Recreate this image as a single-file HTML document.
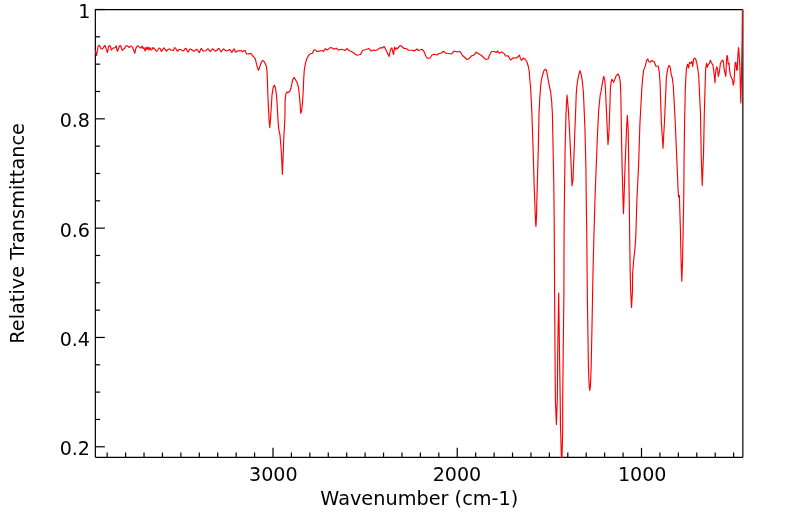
<!DOCTYPE html>
<html><head><meta charset="utf-8"><title>IR Spectrum</title>
<style>
html,body{margin:0;padding:0;background:#fff;}
body{width:799px;height:516px;overflow:hidden;}
svg{display:block;}
text{font-family:"DejaVu Sans","Liberation Sans",sans-serif;font-size:19.1px;fill:#000;}
</style></head><body>
<svg width="799" height="516" viewBox="0 0 799 516">
<rect width="799" height="516" fill="#fff"/>
<g stroke="#000" stroke-width="1.2" fill="none" stroke-linecap="butt">
<path d="M95.35 457.35 L95.35 9.6 L742.85 9.6"/>
<path d="M95.35 457.35 L742.85 457.35"/>
<path d="M742.85 457.35 L742.85 9.6" />
<line x1="733.62" y1="457.35" x2="733.62" y2="452.55"/>
<line x1="715.20" y1="457.35" x2="715.20" y2="452.55"/>
<line x1="696.77" y1="457.35" x2="696.77" y2="452.55"/>
<line x1="678.35" y1="457.35" x2="678.35" y2="452.55"/>
<line x1="659.92" y1="457.35" x2="659.92" y2="452.55"/>
<line x1="641.50" y1="457.35" x2="641.50" y2="447.85"/>
<line x1="623.08" y1="457.35" x2="623.08" y2="452.55"/>
<line x1="604.65" y1="457.35" x2="604.65" y2="452.55"/>
<line x1="586.23" y1="457.35" x2="586.23" y2="452.55"/>
<line x1="567.80" y1="457.35" x2="567.80" y2="452.55"/>
<line x1="549.38" y1="457.35" x2="549.38" y2="452.55"/>
<line x1="530.95" y1="457.35" x2="530.95" y2="452.55"/>
<line x1="512.52" y1="457.35" x2="512.52" y2="452.55"/>
<line x1="494.10" y1="457.35" x2="494.10" y2="452.55"/>
<line x1="475.67" y1="457.35" x2="475.67" y2="452.55"/>
<line x1="457.25" y1="457.35" x2="457.25" y2="447.85"/>
<line x1="438.82" y1="457.35" x2="438.82" y2="452.55"/>
<line x1="420.40" y1="457.35" x2="420.40" y2="452.55"/>
<line x1="401.98" y1="457.35" x2="401.98" y2="452.55"/>
<line x1="383.55" y1="457.35" x2="383.55" y2="452.55"/>
<line x1="365.12" y1="457.35" x2="365.12" y2="452.55"/>
<line x1="346.70" y1="457.35" x2="346.70" y2="452.55"/>
<line x1="328.27" y1="457.35" x2="328.27" y2="452.55"/>
<line x1="309.85" y1="457.35" x2="309.85" y2="452.55"/>
<line x1="291.43" y1="457.35" x2="291.43" y2="452.55"/>
<line x1="273.00" y1="457.35" x2="273.00" y2="447.85"/>
<line x1="254.57" y1="457.35" x2="254.57" y2="452.55"/>
<line x1="236.15" y1="457.35" x2="236.15" y2="452.55"/>
<line x1="217.72" y1="457.35" x2="217.72" y2="452.55"/>
<line x1="199.30" y1="457.35" x2="199.30" y2="452.55"/>
<line x1="180.88" y1="457.35" x2="180.88" y2="452.55"/>
<line x1="162.45" y1="457.35" x2="162.45" y2="452.55"/>
<line x1="144.03" y1="457.35" x2="144.03" y2="452.55"/>
<line x1="125.60" y1="457.35" x2="125.60" y2="452.55"/>
<line x1="107.18" y1="457.35" x2="107.18" y2="452.55"/>
<line x1="95.35" y1="446.78" x2="104.85" y2="446.78"/>
<line x1="95.35" y1="419.45" x2="100.14999999999999" y2="419.45"/>
<line x1="95.35" y1="392.12" x2="100.14999999999999" y2="392.12"/>
<line x1="95.35" y1="364.79" x2="100.14999999999999" y2="364.79"/>
<line x1="95.35" y1="337.46" x2="104.85" y2="337.46"/>
<line x1="95.35" y1="310.13" x2="100.14999999999999" y2="310.13"/>
<line x1="95.35" y1="282.80" x2="100.14999999999999" y2="282.80"/>
<line x1="95.35" y1="255.47" x2="100.14999999999999" y2="255.47"/>
<line x1="95.35" y1="228.14" x2="104.85" y2="228.14"/>
<line x1="95.35" y1="200.81" x2="100.14999999999999" y2="200.81"/>
<line x1="95.35" y1="173.48" x2="100.14999999999999" y2="173.48"/>
<line x1="95.35" y1="146.15" x2="100.14999999999999" y2="146.15"/>
<line x1="95.35" y1="118.82" x2="104.85" y2="118.82"/>
<line x1="95.35" y1="91.49" x2="100.14999999999999" y2="91.49"/>
<line x1="95.35" y1="64.16" x2="100.14999999999999" y2="64.16"/>
<line x1="95.35" y1="36.83" x2="100.14999999999999" y2="36.83"/>
<line x1="95.35" y1="9.50" x2="104.85" y2="9.50"/>
</g>
<clipPath id="cp"><rect x="95" y="9" width="648" height="449"/></clipPath>
<path clip-path="url(#cp)" d="M95.51 51.02 L96.51 55.53 L98.21 45.52 L99.51 45.52 L100.81 48.52 L102.51 49.02 L104.01 46.52 L105.02 45.52 L106.02 48.52 L107.52 52.52 L108.52 47.02 L109.52 45.52 L110.52 46.52 L111.22 50.02 L112.52 48.52 L114.02 47.82 L115.53 47.52 L116.23 45.82 L117.03 50.52 L117.53 51.22 L118.53 48.52 L119.53 45.82 L120.53 45.52 L121.53 48.52 L122.53 50.52 L123.53 49.02 L124.53 48.52 L125.54 46.52 L126.54 45.82 L127.54 45.82 L128.54 47.02 L129.54 47.52 L130.54 46.02 L131.54 46.02 L132.54 47.52 L133.54 50.02 L134.84 53.22 L135.55 49.52 L136.55 47.02 L137.55 45.82 L138.55 46.02 L139.55 47.52 L141.05 48.02 L142.05 46.02 L143.05 48.52 L144.05 47.82 L145.06 51.02 L146.06 47.02 L147.06 49.52 L148.06 47.02 L149.06 50.02 L150.06 47.52 L151.06 50.02 L152.06 49.52 L153.06 47.52 L154.06 48.52 L155.07 49.52 L156.57 51.52 L158.07 49.52 L159.07 48.02 L160.07 48.52 L161.57 51.52 L162.57 49.52 L163.87 47.82 L165.08 49.52 L166.58 51.02 L168.08 49.52 L169.58 48.82 L171.00 50.02 L173.50 50.32 L174.50 47.82 L175.51 48.02 L176.51 50.02 L177.81 51.22 L179.01 49.22 L180.51 49.52 L182.01 50.32 L183.51 51.02 L185.02 48.82 L186.02 48.32 L187.02 50.52 L188.22 52.02 L189.52 49.22 L190.82 49.02 L192.52 50.52 L194.02 51.22 L195.53 50.02 L196.83 49.22 L198.03 51.02 L199.53 52.52 L200.53 49.52 L201.53 48.52 L202.83 50.82 L204.53 51.02 L206.24 50.52 L207.54 48.82 L208.54 49.02 L209.54 51.02 L210.54 51.52 L211.84 49.52 L212.84 48.82 L214.04 50.02 L215.55 51.22 L217.05 50.02 L218.55 48.52 L219.55 49.02 L220.55 51.22 L221.55 51.82 L222.55 49.82 L223.55 48.82 L224.85 50.02 L226.56 51.02 L228.06 50.52 L229.56 49.52 L230.56 50.52 L231.86 52.52 L232.86 50.52 L234.06 48.82 L235.07 51.52 L236.07 52.22 L237.27 50.82 L239.07 50.82 L241.07 50.52 L242.57 51.82 L244.07 50.52 L245.08 50.52 L246.58 54.02 L248.58 53.82 L250.00 53.60 L251.30 53.80 L252.50 55.80 L254.50 57.60 L255.50 59.60 L256.50 64.20 L257.60 68.20 L258.50 70.30 L259.30 68.20 L260.60 64.20 L261.80 61.40 L263.00 60.40 L264.10 61.60 L265.60 64.20 L266.40 66.70 L267.00 71.10 L267.40 80.00 L267.85 95.10 L268.45 107.00 L269.00 119.00 L269.75 127.80 L270.50 119.00 L271.25 107.50 L272.00 95.10 L273.10 87.60 L274.30 85.20 L275.40 87.60 L276.50 95.10 L277.30 107.00 L278.05 121.30 L278.80 129.70 L280.00 135.00 L280.80 145.00 L281.50 155.00 L282.40 174.30 L283.30 152.00 L283.70 140.20 L284.30 128.90 L284.90 117.60 L285.10 100.40 L285.80 94.40 L286.70 92.10 L288.30 92.50 L289.80 91.30 L290.90 88.30 L292.00 83.00 L292.80 79.50 L294.10 77.40 L295.40 79.50 L297.30 83.00 L298.50 87.60 L299.20 93.60 L300.00 102.70 L300.70 113.30 L301.70 110.20 L302.50 102.70 L303.20 91.30 L303.70 79.00 L304.27 70.23 L305.41 63.43 L306.92 58.52 L308.81 55.12 L310.70 53.61 L312.59 53.23 L313.72 50.20 L314.86 49.67 L316.75 51.34 L319.01 51.19 L321.66 50.43 L323.55 51.34 L325.44 48.69 L327.33 49.98 L329.22 48.31 L331.11 47.56 L334.13 49.22 L336.40 48.16 L338.29 50.20 L340.93 49.22 L343.96 50.05 L345.01 50.52 L347.21 48.52 L349.01 50.52 L352.51 52.02 L355.02 54.02 L356.82 55.23 L360.52 54.52 L362.52 50.52 L366.03 49.52 L369.03 48.52 L371.03 51.02 L373.53 50.02 L375.54 50.52 L378.04 49.52 L380.04 47.82 L382.54 47.82 L384.24 46.52 L386.05 50.02 L389.05 56.53 L390.55 49.52 L391.85 47.82 L392.55 51.02 L393.55 54.52 L394.55 47.02 L395.56 49.52 L396.86 47.82 L397.56 48.52 L400.06 45.52 L402.06 46.52 L404.06 48.52 L406.07 48.52 L408.57 50.22 L412.07 50.22 L414.57 50.82 L416.88 49.02 L418.58 50.52 L420.00 50.02 L422.00 49.22 L424.00 51.52 L426.01 56.53 L427.81 58.53 L430.01 58.03 L432.01 55.03 L434.01 54.22 L437.02 55.03 L439.02 53.52 L441.02 53.22 L443.52 51.22 L446.03 53.22 L449.03 53.52 L451.53 54.02 L454.03 51.02 L456.54 51.82 L460.04 51.52 L462.54 55.53 L464.54 57.23 L467.05 59.53 L469.05 58.83 L471.55 55.83 L474.05 55.03 L476.26 52.22 L479.06 54.02 L481.56 55.53 L484.06 58.03 L486.07 59.53 L488.07 59.03 L490.07 54.02 L491.57 51.52 L494.07 51.52 L496.08 52.52 L497.88 51.02 L497.60 51.00 L499.20 53.20 L501.80 51.90 L504.10 53.60 L505.60 56.00 L508.20 55.90 L510.50 60.00 L513.50 57.80 L516.50 58.00 L519.60 55.10 L520.30 58.50 L521.50 60.30 L523.30 58.10 L525.20 59.30 L527.10 62.30 L528.30 66.50 L529.20 71.00 L529.60 77.00 L530.60 87.80 L531.30 101.50 L531.90 114.00 L533.10 149.00 L534.10 184.00 L535.40 219.00 L535.90 226.50 L536.40 219.00 L537.30 184.00 L538.30 149.00 L539.00 114.00 L539.80 97.70 L540.80 84.10 L541.60 79.00 L542.60 74.80 L544.10 70.20 L545.30 69.30 L546.50 70.20 L547.40 75.50 L549.10 84.80 L550.60 91.60 L551.70 101.50 L552.40 114.00 L553.10 149.00 L553.80 184.00 L554.20 219.00 L554.40 254.00 L554.60 293.00 L555.00 353.00 L555.40 400.00 L556.40 424.50 L557.30 400.00 L557.70 353.00 L558.70 293.00 L559.50 353.00 L560.20 400.00 L560.50 426.00 L561.40 458.00 L562.00 458.00 L562.70 430.00 L562.70 400.00 L563.20 353.00 L563.90 293.00 L564.00 254.00 L564.20 219.00 L564.60 184.00 L565.10 149.00 L566.00 114.00 L567.00 95.00 L568.40 110.00 L570.00 140.00 L570.90 160.00 L572.00 185.70 L573.00 180.00 L573.40 169.00 L574.20 149.00 L574.80 132.00 L575.70 110.00 L576.20 95.00 L576.80 86.50 L577.90 78.90 L579.10 73.60 L580.05 70.60 L581.30 75.10 L582.50 82.70 L583.45 93.00 L585.00 130.00 L585.90 167.00 L586.30 202.00 L586.80 237.00 L587.10 272.00 L587.50 307.00 L587.90 331.00 L588.40 365.00 L588.90 380.00 L589.30 387.00 L589.80 390.50 L590.30 387.00 L590.70 380.00 L591.20 365.00 L591.90 331.00 L592.40 305.00 L593.00 272.00 L593.90 237.00 L594.90 202.00 L596.20 167.00 L597.60 132.00 L598.70 110.00 L600.20 95.00 L601.00 91.70 L602.10 84.90 L603.30 78.10 L603.80 76.30 L604.80 80.40 L605.50 90.00 L607.30 130.00 L608.00 144.40 L608.90 134.00 L609.40 120.00 L610.10 99.00 L610.40 88.70 L611.20 81.20 L611.95 79.30 L613.50 82.30 L614.60 80.00 L616.10 75.90 L618.00 74.00 L619.50 77.00 L620.30 82.70 L620.80 93.00 L621.40 130.00 L622.10 167.00 L623.00 200.00 L623.45 213.60 L623.90 203.00 L625.00 167.00 L626.50 130.00 L627.30 115.30 L628.20 130.00 L628.75 165.00 L629.30 204.00 L629.70 239.00 L630.20 272.00 L630.60 290.00 L631.55 307.40 L632.50 290.00 L632.60 274.00 L633.70 260.00 L634.80 250.10 L635.80 237.00 L636.80 202.00 L638.60 165.00 L639.90 124.00 L641.20 100.00 L641.80 89.00 L642.50 80.20 L643.60 70.40 L645.10 66.60 L646.60 60.60 L647.80 58.90 L648.90 61.70 L650.40 62.10 L651.50 60.60 L654.20 61.50 L655.70 65.90 L658.30 66.30 L659.30 72.70 L660.10 83.00 L661.30 121.00 L663.00 148.30 L664.50 121.00 L666.00 87.00 L666.30 78.70 L667.40 70.40 L668.50 66.30 L669.50 65.50 L670.20 67.40 L671.20 74.20 L672.30 78.00 L673.30 86.00 L674.20 102.40 L675.20 122.00 L676.70 157.00 L678.10 190.00 L678.50 197.00 L679.40 195.50 L679.80 210.00 L680.40 229.00 L681.10 262.00 L681.80 281.30 L682.50 262.00 L683.20 229.00 L683.80 192.00 L684.10 157.00 L684.60 122.00 L685.30 90.00 L685.90 76.50 L686.40 69.00 L687.60 64.20 L688.60 68.00 L689.50 62.30 L690.70 63.40 L691.80 61.50 L692.70 66.50 L693.50 59.70 L694.40 58.00 L695.60 58.90 L696.70 62.70 L697.80 68.70 L698.70 76.00 L700.50 114.00 L701.20 155.00 L702.20 185.60 L703.50 155.00 L704.30 114.00 L705.40 76.00 L705.60 70.20 L706.50 63.40 L707.30 67.20 L708.30 64.20 L709.30 63.80 L710.30 60.30 L711.50 62.70 L712.80 65.00 L713.70 70.20 L715.00 82.60 L715.30 76.30 L716.10 68.70 L716.90 66.80 L717.65 70.20 L718.35 76.50 L719.40 71.70 L720.40 63.40 L721.70 61.20 L722.80 60.00 L723.40 61.90 L723.90 68.00 L725.10 73.30 L725.80 76.40 L726.40 62.70 L726.95 55.50 L727.50 56.20 L728.20 64.20 L729.00 63.00 L729.60 70.20 L730.35 75.00 L731.50 78.00 L732.60 79.90 L733.20 85.20 L734.10 81.80 L734.60 70.20 L735.30 62.30 L736.00 62.70 L736.55 70.20 L737.30 69.90 L737.90 55.10 L738.50 47.60 L739.00 53.60 L739.80 65.00 L740.30 85.00 L740.80 103.00 L741.40 79.00 L742.10 40.00 L742.40 9.50" fill="none" stroke="#ff0000" stroke-width="1.15" stroke-linejoin="round" stroke-linecap="round"/>
<text x="273.30" y="481.3" text-anchor="middle">3000</text>
<text x="456.95" y="481.3" text-anchor="middle">2000</text>
<text x="642.20" y="481.3" text-anchor="middle">1000</text>
<text x="90.5" y="18.00" text-anchor="end">1</text>
<text x="90.0" y="127.32" text-anchor="end">0.8</text>
<text x="90.0" y="236.64" text-anchor="end">0.6</text>
<text x="90.0" y="345.96" text-anchor="end">0.4</text>
<text x="90.0" y="455.28" text-anchor="end">0.2</text>
<text x="419.3" y="504.5" text-anchor="middle" style="font-size:19.3px">Wavenumber (cm-1)</text>
<text transform="translate(24.2 233.4) rotate(-90)" text-anchor="middle" style="font-size:19.3px">Relative Transmittance</text>
</svg>
</body></html>
